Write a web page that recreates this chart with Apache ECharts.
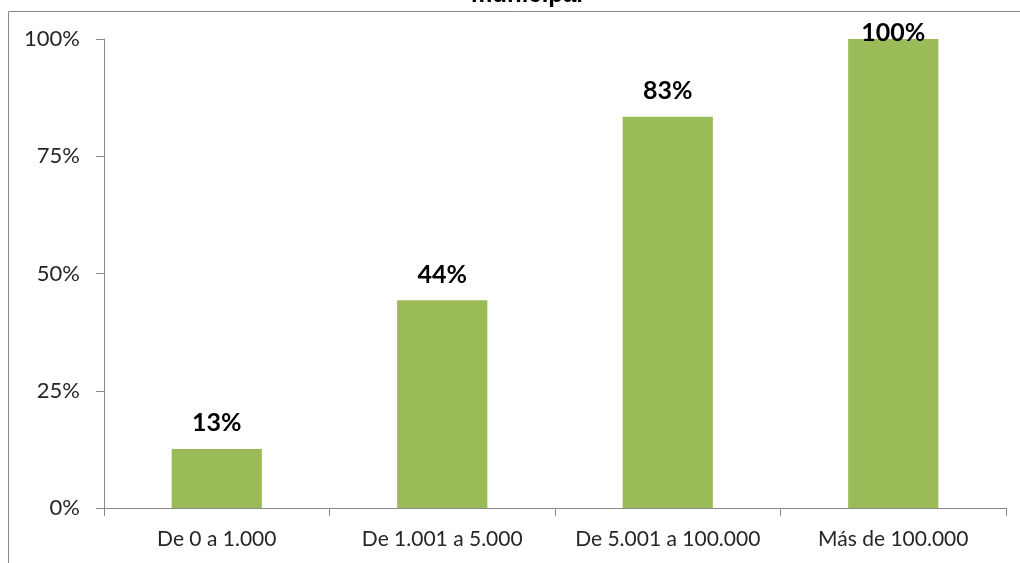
<!DOCTYPE html>
<html>
<head>
<meta charset="utf-8">
<script src="https://cdn.jsdelivr.net/npm/echarts@6.0.0/dist/echarts.min.js"></script>
<style>
  html, body { margin: 0; padding: 0; background: #fff; }
  #chart { width: 1020px; height: 563px; }
</style>
</head>
<body>
<div id="chart"></div>
<script>
"use strict";

// Data
const categories = ["De 0 a 1.000", "De 1.001 a 5.000", "De 5.001 a 100.000", "Más de 100.000"];
const shares = [12.6, 44.3, 83.4, 100];
const shareLabels = ["13%", "44%", "83%", "100%"];
const yTicks = [0, 25, 50, 75, 100];

const AXIS = "#898989";
const INK = "#262626";
const BAR = "#9bbb59";
const FONT = "Lato, 'Open Sans', sans-serif";

const chart = echarts.init(document.getElementById("chart"), null, { renderer: "canvas" });

chart.setOption({
  animation: false,
  backgroundColor: "#fff",
  // chart frame, only its top and left edges show in the crop
  graphic: [{
    type: "rect",
    shape: { x: 8.5, y: 11.5, width: 1100, height: 700 },
    style: { fill: "none", stroke: AXIS, lineWidth: 1 },
    z: -1,
  }],
  title: {
    text: "municipal",
    left: 466,
    top: -22,
    textStyle: { fontFamily: "'Liberation Sans', Arial, sans-serif", fontWeight: "bold", fontSize: 24, color: "#000" },
  },
  grid: { left: 104, right: 14, top: 39, bottom: 55 },
  xAxis: {
    type: "category",
    data: categories,
    axisLine: { lineStyle: { color: AXIS } },
    axisTick: { show: true, interval: 0, length: 8, lineStyle: { color: AXIS } },
    axisLabel: { interval: 0, hideOverlap: false, color: INK, fontFamily: FONT, fontSize: 21, margin: 21 },
  },
  yAxis: {
    type: "value",
    min: 0,
    max: 100,
    interval: 25,
    axisLine: { show: true, lineStyle: { color: AXIS } },
    axisTick: { show: true, length: 8, lineStyle: { color: AXIS } },
    splitLine: { show: false },
    axisLabel: {
      color: INK, fontFamily: FONT, fontSize: 22, margin: 24,
      formatter: (v) => (yTicks.includes(v) ? v + "%" : ""),
    },
  },
  series: [{
    type: "bar",
    barWidth: "40%",
    itemStyle: { color: BAR },
    label: {
      show: true,
      position: "top",
      distance: 13,
      color: "#000",
      fontFamily: FONT,
      fontWeight: "bold",
      fontSize: 25,
      formatter: (p) => shareLabels[p.dataIndex],
    },
    data: shares.map((v, i) => i === shares.length - 1
      ? { value: v, label: { position: "insideTop", distance: -19 } }
      : v),
  }],
});
</script>
</body>
</html>
